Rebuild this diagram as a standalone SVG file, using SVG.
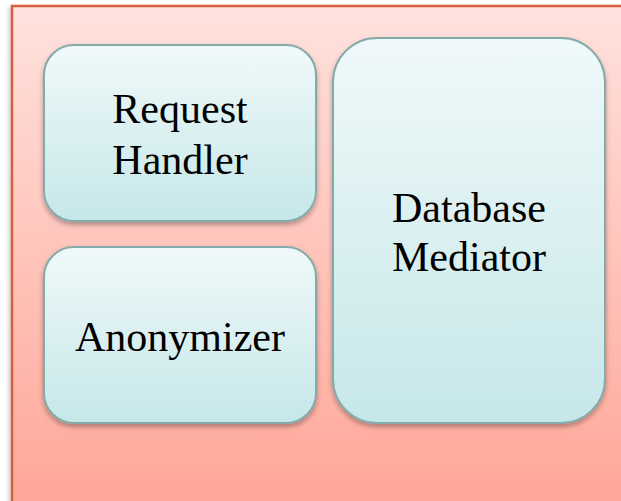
<svg xmlns="http://www.w3.org/2000/svg" width="621" height="501" viewBox="0 0 621 501">
<defs>
<linearGradient id="bg" x1="0" y1="0" x2="0" y2="1">
<stop offset="0" stop-color="#ffe2de"/>
<stop offset="1" stop-color="#ffa596"/>
</linearGradient>
<linearGradient id="nodeFill" x1="0" y1="0" x2="0" y2="1">
<stop offset="0" stop-color="#f0f9f9"/>
<stop offset="1" stop-color="#c6e7e9"/>
</linearGradient>
<filter id="sh" x="-10%" y="-10%" width="120%" height="120%">
<feDropShadow dx="0" dy="3" stdDeviation="2.5" flood-color="#000" flood-opacity="0.3"/>
</filter>
<filter id="osh" x="-5%" y="-5%" width="110%" height="110%">
<feDropShadow dx="-2" dy="2" stdDeviation="2" flood-color="#000" flood-opacity="0.2"/>
</filter>
</defs>
<style>
.node rect { fill: url(#nodeFill); stroke: #84aaaa; stroke-width: 2; filter: url(#sh); }
.node text { font-family: "Liberation Serif", "Times New Roman", serif; font-size: 42px; fill: #000; text-anchor: middle; }
</style>
<rect width="621" height="501" fill="#ffffff"/>
<g id="container">
<rect x="12" y="6" width="620" height="510" fill="url(#bg)" stroke="#d4603f" stroke-width="2.5" filter="url(#osh)"/>
</g>
<g id="connectors"></g>
<g id="request-handler" class="node">
<rect x="44" y="45" width="272" height="176" rx="30" ry="30"/>
<text x="180" y="123">Request</text>
<text x="180" y="174">Handler</text>
</g>
<g id="anonymizer" class="node">
<rect x="44" y="247" width="272" height="176" rx="30" ry="30"/>
<text x="180" y="351">Anonymizer</text>
</g>
<g id="database-mediator" class="node">
<rect x="333" y="38" width="272" height="385" rx="44" ry="44"/>
<text x="469" y="222">Database</text>
<text x="469" y="271">Mediator</text>
</g>
</svg>
